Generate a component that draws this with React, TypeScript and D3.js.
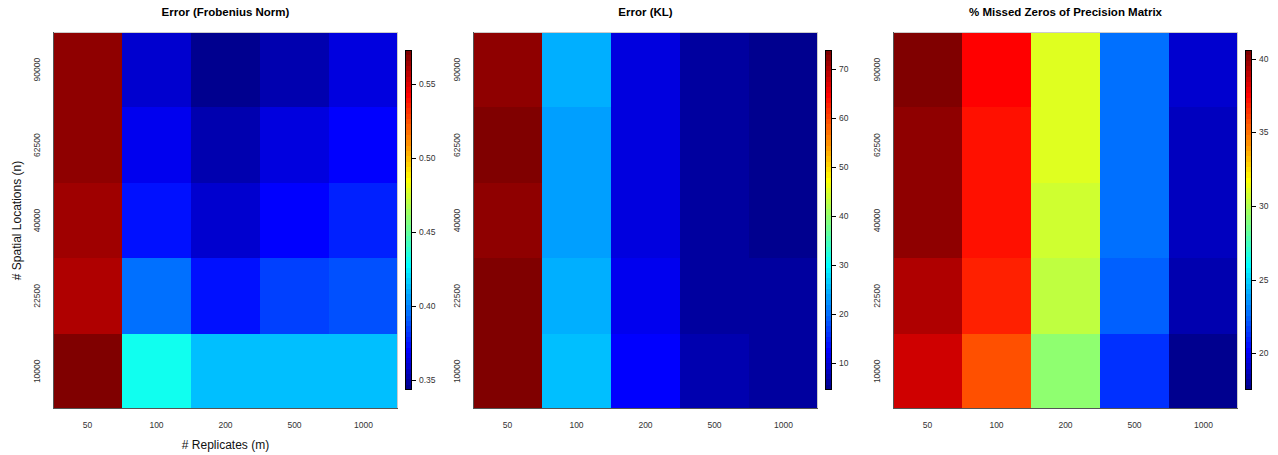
import React from "react";
import * as d3 from "d3";

const replicates = ["50", "100", "200", "500", "1000"];
const locations = ["90000", "62500", "40000", "22500", "10000"]; // top to bottom

const titles = ["Error (Frobenius Norm)", "Error (KL)", "% Missed Zeros of Precision Matrix"];

// rows follow `locations`, columns follow `replicates`
const frobenius = [
  [0.568, 0.359, 0.343, 0.352, 0.363],
  [0.568, 0.366, 0.352, 0.363, 0.370],
  [0.564, 0.374, 0.359, 0.370, 0.377],
  [0.560, 0.395, 0.374, 0.384, 0.388],
  [0.573, 0.431, 0.413, 0.413, 0.413],
];
const kl = [
  [72.2, 24.5, 10.5, 6.1, 4.5],
  [73.8, 23.4, 10.5, 6.1, 5.0],
  [72.2, 23.4, 10.5, 6.1, 5.0],
  [73.3, 24.5, 11.5, 6.1, 6.1],
  [73.3, 25.6, 12.6, 7.2, 6.1],
];
const missedZeros = [
  [40.6, 37.5, 31.0, 22.7, 19.1],
  [40.1, 37.2, 31.0, 22.7, 18.8],
  [40.1, 37.2, 30.7, 22.7, 18.8],
  [39.3, 36.8, 30.3, 22.4, 18.4],
  [38.6, 35.7, 29.2, 21.3, 17.5],
];

const panels = [frobenius, kl, missedZeros];
const formats = [d3.format(".2f"), d3.format("d"), d3.format("d")];

// tim.colors / jet with 64 levels
function jet64(): string[] {
  const n = 16;
  const u: number[] = [];
  for (let i = 1; i <= n; i++) u.push(i / n);
  for (let i = 0; i < n - 1; i++) u.push(1);
  for (let i = n; i >= 1; i--) u.push(i / n);
  const cols: string[] = [];
  for (let k = 1; k <= 64; k++) {
    const gi = k - 8;
    const ri = k - 24;
    const bi = k + 8;
    const g = gi >= 1 && gi <= u.length ? u[gi - 1] : 0;
    const r = ri >= 1 && ri <= u.length ? u[ri - 1] : 0;
    const b = bi >= 1 && bi <= u.length && k <= 39 ? u[bi - 1] : 0;
    cols.push(d3.rgb(Math.round(r * 255), Math.round(g * 255), Math.round(b * 255)).formatHex());
  }
  return cols;
}
const palette = jet64();

const W = 1278;
const H = 455;
const plotLefts = [53, 473, 893];
const plotW = 345;
const plotTop = 32;
const plotBottom = 409;
const barTop = 50;
const barBottom = 390;
const barW = 7;
const barGap = 7;
const font = "'Liberation Sans', Arial, Helvetica, sans-serif";

function Panel({ idx }: { idx: number }) {
  const data = panels[idx];
  const left = plotLefts[idx];
  const flat = data.flat();
  const [zmin, zmax] = d3.extent(flat) as [number, number];
  const x = d3.scaleBand().domain(replicates).range([left, left + plotW]);
  const y = d3.scaleBand().domain(locations).range([plotTop, plotBottom]);
  const color = (v: number) => {
    let i = Math.floor(((v - zmin) / (zmax - zmin)) * 64);
    if (i > 63) i = 63;
    if (i < 0) i = 0;
    return palette[i];
  };
  const barX = left + plotW + barGap;
  const yb = d3.scaleLinear().domain([zmin, zmax]).range([barBottom, barTop]);
  const ticks = yb.ticks(5);
  const bandH = (barBottom - barTop) / 64;
  return (
    <g>
      <text
        x={left + plotW / 2}
        y={16}
        textAnchor="middle"
        fontFamily={font}
        fontWeight="bold"
        fontSize={11.5}
        fill="#000"
      >
        {titles[idx]}
      </text>
      <g shapeRendering="crispEdges">
        {data.map((row, ri) =>
          row.map((v, ci) => {
            const x0 = Math.round(x(replicates[ci]) as number);
            const x1 = Math.round((x(replicates[ci]) as number) + x.bandwidth());
            const y0 = Math.round(y(locations[ri]) as number);
            const y1 = Math.round((y(locations[ri]) as number) + y.bandwidth());
            return <rect key={`${ri}-${ci}`} x={x0} y={y0} width={x1 - x0} height={y1 - y0} fill={color(v)} />;
          })
        )}
        <line x1={left} x2={left + plotW} y1={plotTop + 0.5} y2={plotTop + 0.5} stroke="#cccccc" strokeWidth={1} />
        <line x1={left + plotW - 0.5} x2={left + plotW - 0.5} y1={plotTop} y2={plotBottom} stroke="#cccccc" strokeWidth={1} />
        <line x1={left} x2={left + plotW} y1={plotBottom - 0.5} y2={plotBottom - 0.5} stroke="#555" strokeWidth={1} />
        <line x1={left + 0.5} x2={left + 0.5} y1={plotTop} y2={plotBottom} stroke="#555" strokeWidth={1} />
      </g>
      {replicates.map((r) => (
        <text
          key={r}
          x={(x(r) as number) + x.bandwidth() / 2}
          y={428}
          textAnchor="middle"
          fontFamily={font}
          fontSize={8.5}
          fill="#333"
        >
          {r}
        </text>
      ))}
      {locations.map((l) => {
        const cy = (y(l) as number) + y.bandwidth() / 2;
        const cx = left - 16;
        return (
          <text
            key={l}
            transform={`translate(${cx},${cy}) rotate(-90)`}
            textAnchor="middle"
            dominantBaseline="central"
            fontFamily={font}
            fontSize={8.5}
            fill="#333"
          >
            {l}
          </text>
        );
      })}
      <g shapeRendering="crispEdges">
        {palette.map((c, i) => {
          const y0 = Math.round(barBottom - (i + 1) * bandH);
          const y1 = Math.round(barBottom - i * bandH);
          return <rect key={i} x={barX} y={y0} width={barW} height={y1 - y0} fill={c} />;
        })}
        <rect x={barX + 0.5} y={barTop + 0.5} width={barW - 1} height={barBottom - barTop - 1} fill="none" stroke="#000" strokeWidth={1} />
        {ticks.map((t) => (
          <line
            key={t}
            x1={barX + barW}
            x2={barX + barW + 4}
            y1={Math.round(yb(t)) + 0.5}
            y2={Math.round(yb(t)) + 0.5}
            stroke="#000"
            strokeWidth={1}
          />
        ))}
      </g>
      {ticks.map((t) => (
        <text
          key={t}
          x={barX + barW + 7}
          y={yb(t)}
          dominantBaseline="central"
          fontFamily={font}
          fontSize={8.5}
          fill="#333"
        >
          {formats[idx](t)}
        </text>
      ))}
    </g>
  );
}

export default function App() {
  return (
    <svg width={W} height={H} style={{ position: "absolute", left: 0, top: 0, background: "#fff" }}>
      <rect x={0} y={0} width={W} height={H} fill="#fff" />
      {[0, 1, 2].map((i) => (
        <Panel key={i} idx={i} />
      ))}
      <text
        x={(plotLefts[0] * 2 + plotW) / 2}
        y={449}
        textAnchor="middle"
        fontFamily={font}
        fontSize={12}
        fill="#111"
      >
        # Replicates (m)
      </text>
      <text
        transform={`translate(17,${(plotTop + plotBottom) / 2}) rotate(-90)`}
        textAnchor="middle"
        dominantBaseline="central"
        fontFamily={font}
        fontSize={12}
        fill="#111"
      >
        # Spatial Locations (n)
      </text>
    </svg>
  );
}
